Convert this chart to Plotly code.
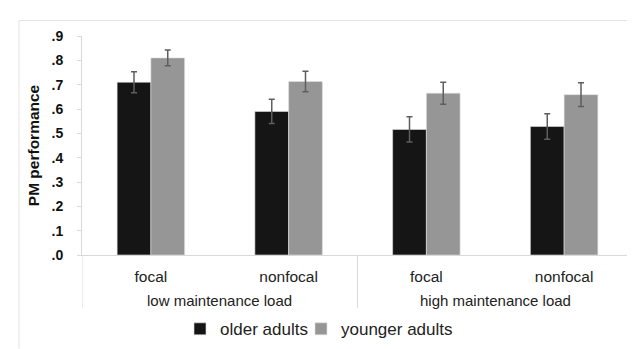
import plotly.graph_objects as go

conditions = ["focal", "nonfocal", "focal", "nonfocal"]
groups = ["low maintenance load", "high maintenance load"]
older = [0.710, 0.590, 0.516, 0.528]
older_err = [0.043, 0.050, 0.052, 0.052]
younger = [0.810, 0.713, 0.665, 0.659]
younger_err = [0.032, 0.042, 0.045, 0.049]
ytick_vals = [0, 0.1, 0.2, 0.3, 0.4, 0.5, 0.6, 0.7, 0.8, 0.9]
ytick_text = [".0", ".1", ".2", ".3", ".4", ".5", ".6", ".7", ".8", ".9"]

W, H = 635, 349
ml, mr, mt, mb = 74, 10, 28, 94
pw, ph = W - ml - mr, H - mt - mb

def px_to_paper_x(px):
    return (px - ml) / pw

def px_to_paper_y(py):
    return (H - mb - py) / ph

xs = list(range(len(conditions)))
font_fam = "Liberation Sans, Arial, sans-serif"

fig = go.Figure()
fig.add_trace(go.Bar(
    x=xs, y=older, name="older adults",
    marker=dict(color="#151515", line=dict(color="#e0e0e0", width=0.6)),
    error_y=dict(type="data", array=older_err, color="#5e5e5e", thickness=1.5, width=3),
))
fig.add_trace(go.Bar(
    x=xs, y=younger, name="younger adults",
    marker=dict(color="#969696", line=dict(color="#e0e0e0", width=0.6)),
    error_y=dict(type="data", array=younger_err, color="#5e5e5e", thickness=1.5, width=3),
))
# empty spacer entry so the last legend label is not clipped
fig.add_trace(go.Scatter(
    x=[None], y=[None], mode="markers", name=" ",
    marker=dict(color="rgba(0,0,0,0)"), hoverinfo="skip",
))

sep_bottom = px_to_paper_y(310)
shapes = []
for xv in [-0.5, 1.5, 3.5]:
    shapes.append(dict(type="line", xref="x", yref="paper", x0=xv, x1=xv,
                       y0=0, y1=sep_bottom, line=dict(color="#d9d9d9", width=1)))
# outer chart frame (top and left edges visible)
shapes.append(dict(type="line", xref="paper", yref="paper",
                   x0=px_to_paper_x(11), x1=px_to_paper_x(640),
                   y0=px_to_paper_y(12), y1=px_to_paper_y(12),
                   line=dict(color="#e3e3e3", width=1)))
shapes.append(dict(type="line", xref="paper", yref="paper",
                   x0=px_to_paper_x(11), x1=px_to_paper_x(11),
                   y0=px_to_paper_y(12), y1=px_to_paper_y(352),
                   line=dict(color="#e3e3e3", width=1)))

annotations = []
for i, g in enumerate(groups):
    annotations.append(dict(text=g, x=0.5 + 2 * i, xref="x", y=px_to_paper_y(302), yref="paper",
                            showarrow=False, yanchor="middle",
                            font=dict(family=font_fam, size=15, color="#222222")))

fig.update_layout(
    width=W, height=H,
    margin=dict(l=ml, r=mr, t=mt, b=mb),
    plot_bgcolor="white", paper_bgcolor="white",
    barmode="group", bargap=0.51, bargroupgap=0,
    font=dict(family=font_fam, color="#222222"),
    showlegend=True,
    legend=dict(orientation="h", x=px_to_paper_x(172), xanchor="left",
                y=px_to_paper_y(332), yanchor="middle",
                font=dict(family=font_fam, size=17, color="#222222"),
                itemwidth=30, tracegroupgap=0, entrywidth=76, entrywidthmode="pixels"),
    shapes=shapes, annotations=annotations,
)
fig.update_xaxes(
    range=[-0.5, 3.5], tickmode="array", tickvals=xs, ticktext=conditions,
    showline=True, linecolor="#d9d9d9", linewidth=1, ticks="outside", ticklen=7,
    tickcolor="rgba(0,0,0,0)", showgrid=False,
    tickfont=dict(family=font_fam, size=15.5, color="#222222"), zeroline=False,
)
fig.update_yaxes(
    range=[0, 0.9], tickmode="array", tickvals=ytick_vals, ticktext=ytick_text,
    showline=True, linecolor="#d9d9d9", linewidth=1, ticks="outside", ticklen=4,
    tickcolor="#d9d9d9", showgrid=False, zeroline=False, ticklabelstandoff=11,
    tickfont=dict(family=font_fam, size=14, color="#111111", weight="bold"),
    title=dict(text="PM performance", standoff=8,
               font=dict(family=font_fam, size=15.5, color="#111111", weight="bold")),
)

fig.write_html("out.html")
